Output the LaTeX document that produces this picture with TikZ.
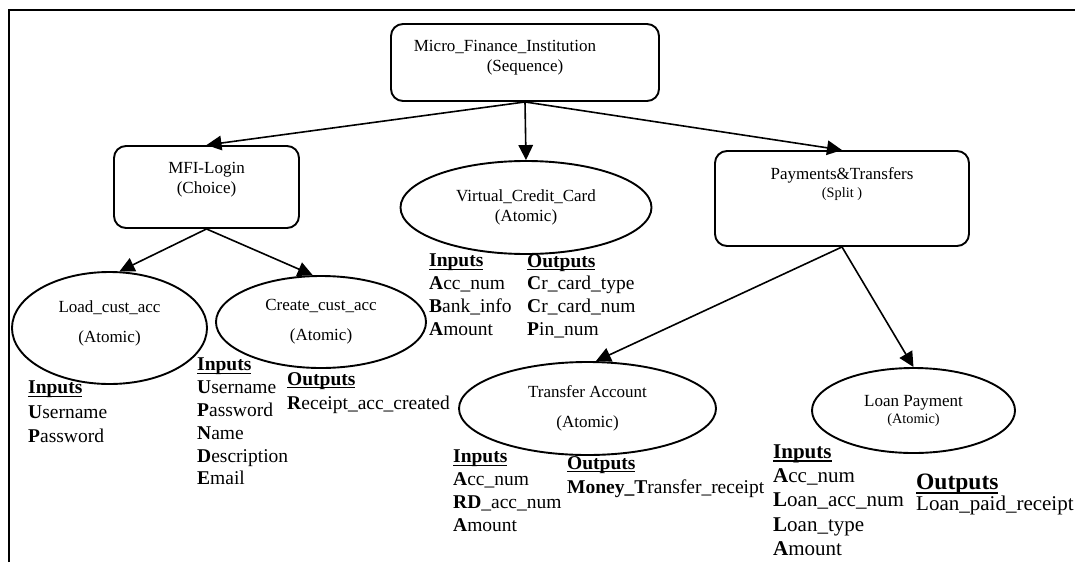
\documentclass[tikz,border=0pt]{standalone}
\usepackage{fontspec}
\setmainfont{Liberation Serif}
\usetikzlibrary{arrows.meta,shapes.geometric,positioning}

\newcommand\nodefont{\fontsize{17}{20}\selectfont}
\newcommand\smallnodefont{\fontsize{14.3}{17}\selectfont}
\newcommand\hdr[1]{\setbox0=\hbox{\textbf{#1}}\rlap{\rule[-0.17em]{\wd0}{0.09em}}\box0}

\tikzstyle{proc}=[draw, rounded corners=12pt, line width=1.9pt, inner sep=0pt]
\tikzstyle{atom}=[draw, ellipse, line width=1.9pt, inner sep=0pt, align=center, font=\nodefont]
\tikzstyle{ptext}=[inner sep=0pt, align=center, font=\nodefont]
\tikzstyle{io}=[inner sep=0pt, anchor=north west, align=left]
\tikzstyle{hit}=[->, line width=1.6pt]

\begin{document}
\begin{tikzpicture}[>={Triangle[length=15pt,width=14.5pt]}, x=1pt, y=-1pt]

\useasboundingbox (0,0) rectangle (1075,562);

% % % % % % % % % % % % % % %

\coordinate (A) at (9,562);
\coordinate (B) at (9,10);
\coordinate (C) at (1075,10);
\draw[line width=2pt] (A)--(B)--(C);

% composite processes
\node[proc, minimum width=268, minimum height=77] (top) at (525,62.5) {};
\node[ptext, below=17pt of top.north] (top-txt) {Micro\_Finance\_Institution\hspace*{40pt}\\(Sequence)};

\node[proc, minimum width=185, minimum height=82] (mfi) at (206.5,187) {};
\node[ptext, below=17pt of mfi.north] (mfi-txt) {MFI-Login\\(Choice)};

\node[proc, minimum width=254, minimum height=95] (pt) at (842,198.5) {};
\node[ptext, below=17pt of pt.north] (pt-txt) {Payments\&Transfers\\[-2pt]{\smallnodefont (Split )}};

% atomic processes
\node[atom, minimum width=251, minimum height=93] (vcc) at (526,207.5) {Virtual\_Credit\_Card\\(Atomic)};
\node[atom, minimum width=195, minimum height=112] (load) at (109.5,328) {Load\_cust\_acc\\[10pt](Atomic)\\[-7pt]\mbox{}};
\node[atom, minimum width=210, minimum height=92] (create) at (321,322) {Create\_cust\_acc\\[10pt](Atomic)};
\node[atom, minimum width=257, minimum height=93] (transfer) at (587.5,408.5) {Transfer Account\\[10pt](Atomic)};
\node[atom, minimum width=203, minimum height=85] (loan) at (913.5,410.5) {Loan Payment\\[-3pt]{\smallnodefont (Atomic)}};

\draw[hit] (top.south) -- (mfi.north);
\draw[hit] (top.south) -- (vcc.north);
\draw[hit] (top.south) -- (pt.north);
\draw[hit] (mfi.south) -- (load.80);
\draw[hit] (mfi.south) -- (create.100);
\draw[hit] (pt.south) -- (transfer.80);
\draw[hit] (pt.south) -- (loan.north);

% inputs and outputs
\node[io, font=\fontsize{19.5}{24.5}\selectfont] (load-in) at (28,381)
  {\hdr{Inputs}\\\textbf{U}sername\\\textbf{P}assword};
\node[io, font=\fontsize{19.5}{22.8}\selectfont] (create-in) at (197,358)
  {\hdr{Inputs}\\\textbf{U}sername\\\textbf{P}assword\\\textbf{N}ame\\\textbf{D}escription\\\textbf{E}mail};
\node[io, font=\fontsize{19.5}{24}\selectfont] (create-out) at (287,372)
  {\hdr{Outputs}\\\textbf{R}eceipt\_acc\_created};
\node[io, font=\fontsize{19.5}{22.7}\selectfont] (vcc-in) at (429,254)
  {\hdr{Inputs}\\\textbf{A}cc\_num\\\textbf{B}ank\_info\\\textbf{A}mount};
\node[io, font=\fontsize{19.5}{22.7}\selectfont] (vcc-out) at (527,254)
  {\hdr{Outputs}\\\textbf{C}r\_card\_type\\\textbf{C}r\_card\_num\\\textbf{P}in\_num};
\node[io, font=\fontsize{19.5}{22.7}\selectfont] (tr-in) at (453,450)
  {\hdr{Inputs}\\\textbf{A}cc\_num\\\textbf{RD}\_acc\_num\\\textbf{A}mount};
\node[io, font=\fontsize{19.5}{24}\selectfont] (tr-out) at (567,456)
  {\hdr{Outputs}\\\textbf{Money\_T}ransfer\_receipt};
\node[io, font=\fontsize{21}{24.2}\selectfont] (loan-in) at (773,444.5)
  {\hdr{Inputs}\\\textbf{A}cc\_num\\\textbf{L}oan\_acc\_num\\\textbf{L}oan\_type\\\textbf{A}mount};
\node[io, font=\fontsize{21}{18.5}\selectfont] (loan-out) at (916,474)
  {{\fontsize{23.5}{18.5}\selectfont\hdr{Outputs}}\\Loan\_paid\_receipt};

\end{tikzpicture}
\end{document}
